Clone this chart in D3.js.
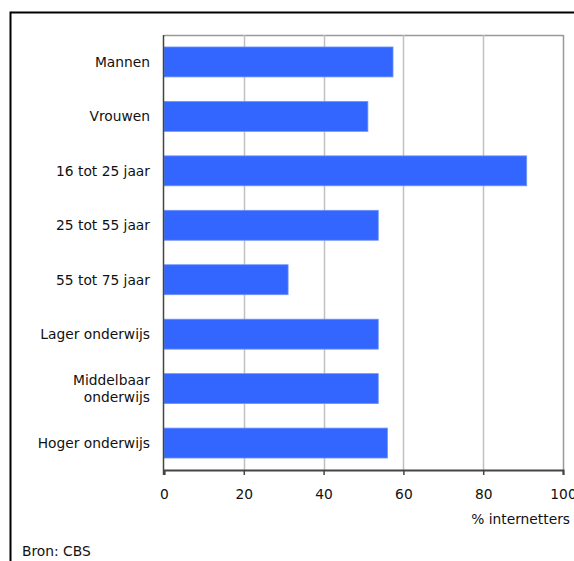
<!DOCTYPE html>
<html>
<head>
<meta charset="utf-8">
<script src="https://cdn.jsdelivr.net/npm/d3@7"></script>
<style>
  body { margin: 0; background: #fff; }
  svg { display: block; font-family: "DejaVu Sans", Verdana, sans-serif; }
</style>
</head>
<body>
<svg id="chart" width="574" height="561"></svg>
<script>
// categories, top to bottom
var categories = [
  ["Mannen"],
  ["Vrouwen"],
  ["16 tot 25 jaar"],
  ["25 tot 55 jaar"],
  ["55 tot 75 jaar"],
  ["Lager onderwijs"],
  ["Middelbaar", "onderwijs"],
  ["Hoger onderwijs"]
];
var values = [57.4, 51.1, 90.9, 53.7, 31.1, 53.7, 53.7, 56.0];
var ticks = [0, 20, 40, 60, 80, 100];

var svg = d3.select("#chart");
var plotL = 164, plotR = 563, plotT = 35, plotB = 470;
var fontSize = 13.8;

// outer frame (left and top edges only are visible)
svg.append("line").attr("x1", 11).attr("x2", 574).attr("y1", 12.5).attr("y2", 12.5)
  .attr("stroke", "#000").attr("stroke-width", 2);
svg.append("line").attr("x1", 10.5).attr("x2", 10.5).attr("y1", 11.5).attr("y2", 561)
  .attr("stroke", "#000").attr("stroke-width", 2);

var x = d3.scaleLinear().domain([0, 100]).range([plotL, plotR]);
var y = d3.scaleBand().domain(d3.range(categories.length)).range([plotT, plotB]).paddingInner(0.45).paddingOuter(0.22);

// plot top border
svg.append("line").attr("x1", plotL).attr("x2", plotR).attr("y1", plotT + 0.5).attr("y2", plotT + 0.5)
  .attr("stroke", "#999").attr("stroke-width", 1.5);

// gridlines
svg.append("g").selectAll("line").data(ticks.slice(1)).enter().append("line")
  .attr("x1", function (d) { return Math.round(x(d)) + 0.5; })
  .attr("x2", function (d) { return Math.round(x(d)) + 0.5; })
  .attr("y1", plotT).attr("y2", plotB)
  .attr("stroke", function (d) { return d == 100 ? "#999" : "#c0c0c0"; })
  .attr("stroke-width", 1.5);

// bars
svg.append("g").selectAll("rect").data(values).enter().append("rect")
  .attr("x", x(0))
  .attr("y", function (d, i) { return y(i); })
  .attr("width", function (d) { return x(d) - x(0); })
  .attr("height", y.bandwidth())
  .attr("fill", "#3366ff")
  .attr("stroke", "#6f93ff")
  .attr("stroke-width", 0.8);

// category labels
var lab = svg.append("g").selectAll("text").data(categories).enter().append("text")
  .attr("text-anchor", "end")
  .attr("font-size", fontSize)
  .attr("fill", "#111");
lab.each(function (d, i) {
  var t = d3.select(this);
  var cy = y(i) + y.bandwidth() / 2;
  var start = cy - (d.length - 1) * 8.5;
  d.forEach(function (s, k) {
    t.append("tspan").attr("x", 150).attr("y", start + k * 17).attr("dy", "0.35em").text(s);
  });
});

// x axis
var axis = d3.axisBottom(x).tickValues(ticks).tickSize(5).tickPadding(14);
var ax = svg.append("g").attr("transform", "translate(0," + plotB + ")").call(axis);
ax.select(".domain").attr("stroke", "#444").attr("stroke-width", 2);
ax.selectAll(".tick line").attr("stroke", "#444").attr("stroke-width", 1.5);
ax.selectAll(".tick text").attr("font-size", fontSize)
  .attr("font-family", "DejaVu Sans, Verdana, sans-serif").attr("fill", "#111");

// vertical axis line
svg.append("line").attr("x1", plotL - 0.5).attr("x2", plotL - 0.5).attr("y1", plotT).attr("y2", plotB + 5)
  .attr("stroke", "#444").attr("stroke-width", 1.5);

svg.append("text").attr("x", 570).attr("y", 524).attr("text-anchor", "end")
  .attr("font-size", fontSize).attr("fill", "#111").text("% internetters");

svg.append("text").attr("x", 22).attr("y", 556)
  .attr("font-size", fontSize).attr("fill", "#111").text("Bron: CBS");
</script>
</body>
</html>
